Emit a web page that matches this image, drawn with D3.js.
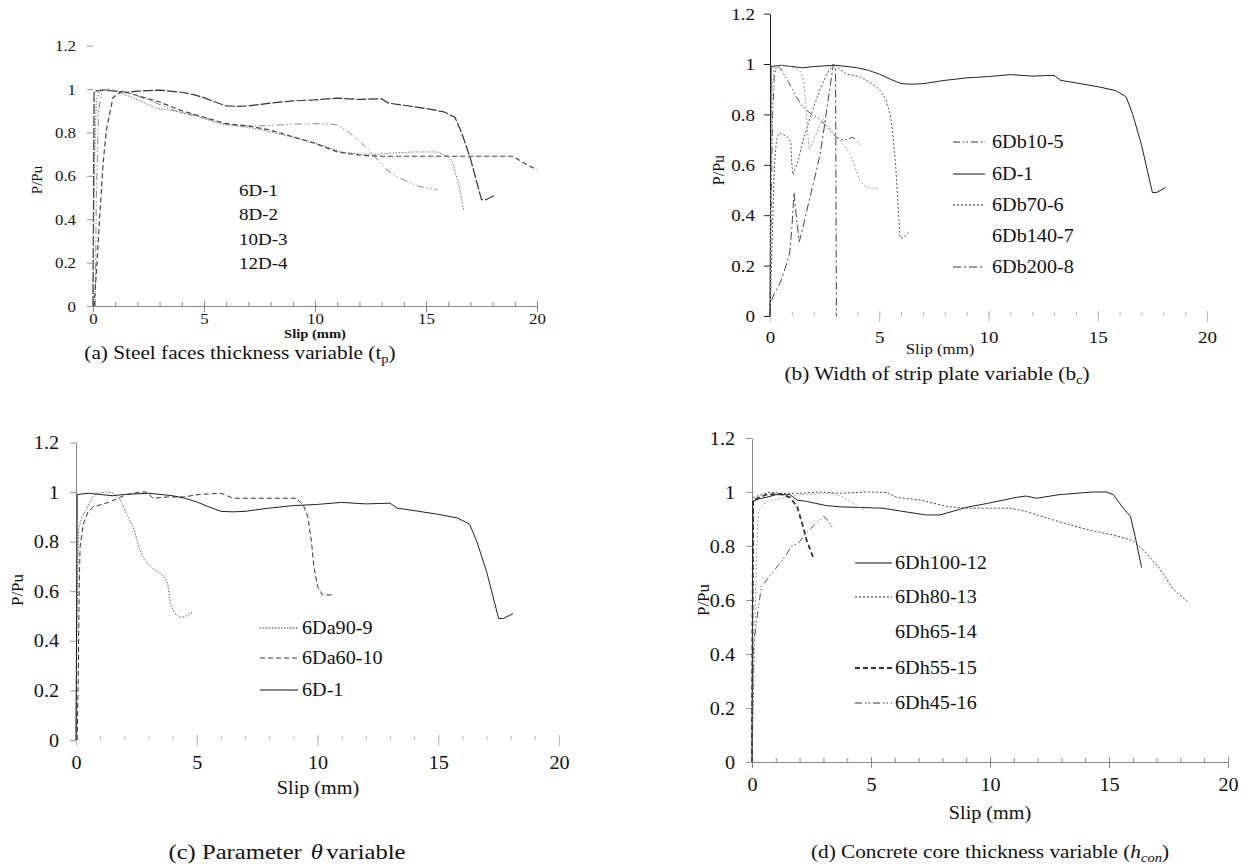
<!DOCTYPE html>
<html>
<head>
<meta charset="utf-8">
<script src="https://cdn.jsdelivr.net/npm/d3@7"></script>
<style>
  body { margin: 0; background: #fff; }
  svg { font-family: "Liberation Serif", "DejaVu Serif", serif; }
  text { fill: #111; }
</style>
</head>
<body>
<svg width="1247" height="868"></svg>
<script>
// ---- data (slip mm, P/Pu) ----
var yTicks = [0, 0.2, 0.4, 0.6, 0.8, 1, 1.2];
var xMajor = [0, 5, 10, 15, 20];
var xMinor = d3.range(0, 21, 1);

var s6D1 = [[0,0],[0.03,0.6],[0.05,0.99],[0.5,0.995],[1,0.99],[1.5,0.985],[2,0.99],[3,0.995],[4,0.985],[4.5,0.975],[5,0.96],[5.5,0.94],[6,0.922],[6.5,0.92],[7,0.922],[8,0.935],[9,0.945],[10,0.95],[11,0.958],[12,0.952],[13,0.955],[13.3,0.935],[14,0.925],[15,0.91],[15.8,0.895],[16.3,0.87],[16.6,0.8],[17,0.68],[17.5,0.49],[17.7,0.49],[18.1,0.51]];
var s8D2 = [[0.1,0],[0.15,0.5],[0.25,0.9],[0.4,0.99],[0.7,1.0],[1.2,0.99],[1.8,0.975],[2.5,0.95],[3.3,0.915],[4,0.89],[4.8,0.875],[5.7,0.845],[6.5,0.83],[7.5,0.83],[8.5,0.835],[9.5,0.84],[10.5,0.84],[11,0.835],[11.4,0.81],[12,0.76],[12.6,0.70],[13.2,0.63],[13.8,0.59],[14.7,0.55],[15.5,0.535]];
var s10D3 = [[0,0],[0.05,0.6],[0.15,0.95],[0.35,1.0],[1,0.99],[1.8,0.96],[2.9,0.91],[3.9,0.895],[4.8,0.87],[5.7,0.84],[6.5,0.83],[7.5,0.815],[8.5,0.79],[9.5,0.765],[10.5,0.735],[11.2,0.71],[12,0.70],[12.8,0.70],[13.5,0.705],[14.5,0.71],[15.5,0.71],[16,0.69],[16.2,0.66],[16.5,0.55],[16.7,0.44]];
var s12D4 = [[0.05,0],[0.18,0.2],[0.3,0.41],[0.45,0.65],[0.6,0.81],[0.9,0.96],[1.3,0.99],[2,0.97],[3,0.94],[4,0.9],[5,0.87],[6,0.84],[7,0.83],[8,0.81],[9,0.78],[10,0.75],[11,0.71],[12,0.695],[13,0.69],[15,0.69],[17,0.69],[18.2,0.69],[18.9,0.69],[19.4,0.66],[20,0.627]];

var s6Db10 = [[0,0],[0.05,0.4],[0.12,0.8],[0.2,0.95],[0.3,0.995],[0.5,0.98],[0.9,0.92],[1.2,0.87],[1.5,0.83],[1.9,0.8],[2.3,0.78],[2.6,0.75],[2.9,0.72],[3.2,0.7],[3.5,0.7],[3.8,0.71],[4.1,0.68]];
var s6Db70 = [[0,0],[0.1,0.3],[0.2,0.6],[0.3,0.7],[0.4,0.725],[0.6,0.72],[0.8,0.71],[0.95,0.69],[1.0,0.6],[1.05,0.56],[1.3,0.62],[1.5,0.69],[1.7,0.75],[2.0,0.83],[2.3,0.9],[2.6,0.96],[2.9,1.0],[3.2,0.98],[3.5,0.96],[4.1,0.95],[4.7,0.92],[5.0,0.9],[5.3,0.86],[5.5,0.8],[5.6,0.74],[5.75,0.6],[5.85,0.45],[5.95,0.31],[6.1,0.31],[6.4,0.34]];
var s6Db140 = [[0,0],[0.05,0.5],[0.1,0.9],[0.2,0.99],[0.5,0.995],[0.9,0.99],[1.2,0.98],[1.4,0.97],[1.55,0.93],[1.65,0.82],[1.75,0.7],[1.8,0.66],[2.0,0.7],[2.3,0.76],[2.45,0.78],[2.7,0.75],[3.2,0.7],[3.65,0.645],[3.9,0.59],[4.1,0.54],[4.4,0.51],[5.0,0.505]];
var s6Db200 = [[0,0],[0.02,0.05],[0.2,0.09],[0.46,0.13],[0.7,0.19],[0.9,0.25],[1.0,0.35],[1.1,0.49],[1.2,0.4],[1.34,0.295],[1.5,0.35],[1.8,0.46],[2.05,0.55],[2.3,0.645],[2.45,0.73],[2.6,0.82],[2.75,0.91],[2.9,1.0],[3.0,0.98],[3.02,0.5],[3.04,0]];

var s6Da90 = [[0,0],[0.05,0.5],[0.1,0.85],[0.25,0.9],[0.44,0.93],[0.65,0.975],[0.86,0.995],[1.27,1.0],[1.55,0.995],[1.82,0.97],[2.1,0.91],[2.4,0.85],[2.6,0.78],[2.8,0.73],[3.2,0.69],[3.6,0.665],[3.8,0.63],[3.9,0.55],[4.1,0.51],[4.3,0.495],[4.5,0.497],[4.83,0.517]];
var s6Da60 = [[0.05,0],[0.1,0.3],[0.13,0.6],[0.17,0.78],[0.3,0.87],[0.5,0.92],[0.72,0.94],[1.4,0.96],[2.1,0.99],[2.65,1.0],[2.9,1.0],[3.2,0.975],[3.8,0.98],[4.45,0.98],[5.1,0.99],[6.0,0.995],[6.5,0.975],[7.9,0.975],[9.1,0.975],[9.4,0.95],[9.6,0.9],[9.75,0.8],[9.85,0.7],[10.0,0.62],[10.2,0.585],[10.65,0.585]];

var s6Dh100 = [[0,0],[0.02,0.5],[0.03,0.965],[0.3,0.975],[0.6,0.98],[1.0,0.99],[1.6,0.99],[1.9,0.97],[2.3,0.965],[3.1,0.95],[3.7,0.945],[4.4,0.943],[5.5,0.94],[6.2,0.93],[7.3,0.915],[7.9,0.915],[8.5,0.93],[9.0,0.943],[9.9,0.958],[10.56,0.97],[11.1,0.98],[11.5,0.985],[11.96,0.977],[12.9,0.99],[14.3,1.0],[14.9,1.0],[15.18,0.99],[15.6,0.94],[15.9,0.91],[16.1,0.835],[16.37,0.72]];
var s6Dh80 = [[0,0],[0.03,0.6],[0.06,0.98],[0.4,0.99],[0.76,1.0],[1.2,0.995],[2.0,0.995],[2.86,1.0],[3.7,0.995],[4.8,1.0],[5.66,0.998],[6.1,0.98],[7.1,0.97],[8.2,0.946],[9.0,0.94],[10.4,0.94],[10.84,0.94],[11.54,0.927],[12.9,0.89],[14.1,0.86],[15.2,0.84],[16.0,0.82],[16.5,0.78],[17.1,0.72],[17.7,0.64],[18.3,0.594]];
var s6Dh65 = [[0,0],[0.1,0.4],[0.2,0.8],[0.27,0.93],[0.6,0.965],[1.3,0.977],[2.0,0.99],[2.7,0.993],[3.4,0.995],[3.84,0.98],[4.4,0.95],[4.8,0.927]];
var s6Dh55 = [[0,0],[0.02,0.5],[0.05,0.97],[0.6,0.99],[1.2,0.993],[1.6,0.98],[1.9,0.945],[2.15,0.87],[2.3,0.82],[2.58,0.755]];
var s6Dh45 = [[0,0],[0.03,0.2],[0.06,0.43],[0.27,0.575],[0.4,0.65],[0.76,0.69],[1.3,0.75],[1.67,0.8],[1.95,0.81],[2.3,0.85],[2.7,0.885],[3.0,0.91],[3.14,0.9],[3.4,0.865]];

// ---- styles ----
var SOLID = null, DOT = '2,2', FINEDOT = '1.5,1.5', DASH = '5,3', DASHDOT = '8,3,2,3', DASHDOTDOT = '7,3,1.5,2,1.5,3';
var SX = 1.12;
var FONT = '"Liberation Serif", "DejaVu Serif", serif';

var panels = [
  { x: [93, 537], y: [306, 45.6], xLine: true, yLine: null, tickPadY: 17, tickPadX: 13, fs: 15,
    yTitle: [37, 180, 15], xTitle: [315, 334, 13, 'bold'], cap: [240, 352, 19],
    legend: { x0: 239, x1: 239, tx: 239, rows: [190, 214.5, 239, 263.5], fs: 17, noLines: true },
    series: [
      { name: '6D-1', data: s6D1, dash: '10,2', color: '#333', w: 1.2 },
      { name: '8D-2', data: s8D2, dash: DASHDOTDOT, color: '#888', w: 1 },
      { name: '10D-3', data: s10D3, dash: FINEDOT, color: '#777', w: 1 },
      { name: '12D-4', data: s12D4, dash: DASH, color: '#444', w: 1.2 }
    ] },
  { x: [770, 1207], y: [316, 13.6], xLine: false, yLine: '#222', tickPadY: 15, tickPadX: 21, fs: 17,
    yTitle: [718, 170, 16], xTitle: [940, 349, 15], cap: [937, 373, 19],
    legend: { x0: 953, x1: 985, tx: 992, rows: [142, 174, 205, 236, 267], fs: 18 },
    series: [
      { name: '6Db10-5', data: s6Db10, dash: DASHDOTDOT, color: '#555', w: 1 },
      { name: '6D-1', data: s6D1, dash: SOLID, color: '#222', w: 1 },
      { name: '6Db70-6', data: s6Db70, dash: DOT, color: '#555', w: 1 },
      { name: '6Db140-7', data: s6Db140, dash: DOT, color: '#999', w: 1, noLegendLine: true },
      { name: '6Db200-8', data: s6Db200, dash: DASHDOT, color: '#444', w: 1 }
    ] },
  { x: [76, 559], y: [740, 442.4], xLine: false, yLine: '#888', tickPadY: 17, tickPadX: 23, fs: 18,
    yTitle: [17, 590, 17], xTitle: [318, 788, 18], cap: [287, 851, 22],
    legend: { x0: 260, x1: 298, tx: 302, rows: [628, 658, 690], fs: 18 },
    series: [
      { name: '6Da90-9', data: s6Da90, dash: FINEDOT, color: '#666', w: 1 },
      { name: '6Da60-10', data: s6Da60, dash: DASH, color: '#333', w: 1 },
      { name: '6D-1', data: s6D1, dash: SOLID, color: '#222', w: 1 }
    ] },
  { x: [752, 1228], y: [762, 438], xLine: true, yLine: '#888', tickPadY: 17, tickPadX: 23, fs: 18,
    yTitle: [703, 600, 17], xTitle: [990, 813, 18], cap: [990, 851, 19],
    legend: { x0: 855, x1: 892, tx: 895, rows: [563, 597, 632, 668, 703], fs: 18 },
    series: [
      { name: '6Dh100-12', data: s6Dh100, dash: SOLID, color: '#222', w: 1 },
      { name: '6Dh80-13', data: s6Dh80, dash: DOT, color: '#444', w: 1 },
      { name: '6Dh65-14', data: s6Dh65, dash: DOT, color: '#aaa', w: 1, noLegendLine: true },
      { name: '6Dh55-15', data: s6Dh55, dash: DASH, color: '#333', w: 1.8 },
      { name: '6Dh45-16', data: s6Dh45, dash: DASHDOTDOT, color: '#555', w: 1 }
    ] }
];

var svg = d3.select('svg');

function txt(g, x, y, s, size, anchor) {
  return g.append('text')
    .attr('transform', 'translate(' + x + ',' + y + ') scale(' + SX + ',1)')
    .attr('text-anchor', anchor || 'middle')
    .attr('dominant-baseline', 'central')
    .style('font-size', size + 'px')
    .text(s);
}

panels.forEach(function (p, i) {
  var g = svg.append('g');
  var x = d3.scaleLinear().domain([0, 20]).range(p.x);
  var y = d3.scaleLinear().domain([0, 1.2]).range(p.y);

  // y axis
  var ya = g.append('g').attr('transform', 'translate(' + p.x[0] + ',0)')
    .call(d3.axisLeft(y).tickValues(yTicks).tickSize(6).tickSizeOuter(0).tickFormat(d3.format('')));
  ya.attr('font-family', null);
  ya.select('.domain').attr('stroke', p.yLine || 'none');
  ya.selectAll('.tick line').attr('stroke', i === 1 ? '#222' : '#999');
  ya.selectAll('.tick text')
    .attr('x', null).attr('dy', null)
    .attr('transform', 'translate(' + (-p.tickPadY) + ',0) scale(' + SX + ',1)')
    .attr('dominant-baseline', 'central')
    .style('font-size', p.fs + 'px').style('font-family', FONT);

  // x axis: minor ticks upward, major crossing
  var xm = g.append('g').attr('transform', 'translate(0,' + p.y[0] + ')')
    .call(d3.axisBottom(x).tickValues(xMinor).tickSize(-4).tickSizeOuter(0).tickFormat(''));
  xm.select('.domain').attr('stroke', p.xLine ? '#888' : 'none');
  xm.selectAll('.tick line').attr('stroke', p.xLine ? '#888' : '#bbb');
  var xa = g.append('g').attr('transform', 'translate(0,' + p.y[0] + ')')
    .call(d3.axisBottom(x).tickValues(xMajor).tickSize(6).tickSizeOuter(0).tickFormat(d3.format('')));
  xa.attr('font-family', null);
  xa.select('.domain').remove();
  xa.selectAll('.tick line').attr('y1', -5).attr('stroke', p.xLine ? '#888' : '#bbb');
  xa.selectAll('.tick text')
    .attr('y', null).attr('dy', null)
    .attr('transform', 'translate(0,' + p.tickPadX + ') scale(' + SX + ',1)')
    .attr('dominant-baseline', 'central')
    .style('font-size', p.fs + 'px').style('font-family', FONT);

  // curves
  var line = d3.line().x(function (d) { return x(d[0]); }).y(function (d) { return y(d[1]); });
  p.series.forEach(function (s) {
    g.append('path').datum(s.data)
      .attr('d', line)
      .attr('fill', 'none')
      .attr('stroke', s.color)
      .attr('stroke-width', s.w)
      .attr('stroke-dasharray', s.dash);
  });

  // legend
  var L = p.legend;
  p.series.forEach(function (s, k) {
    var yy = L.rows[k];
    if (!L.noLines && !s.noLegendLine) {
      g.append('line').attr('x1', L.x0).attr('x2', L.x1).attr('y1', yy).attr('y2', yy)
        .attr('stroke', s.dash === SOLID ? '#111' : '#333')
        .attr('stroke-width', s.w)
        .attr('stroke-dasharray', s.dash);
    }
    txt(g, L.tx, yy, s.name, L.fs, 'start');
  });

  // axis titles
  g.append('text')
    .attr('transform', 'translate(' + p.yTitle[0] + ',' + p.yTitle[1] + ') rotate(-90)')
    .attr('text-anchor', 'middle').attr('dominant-baseline', 'central')
    .style('font-size', p.yTitle[2] + 'px').text('P/Pu');
  txt(g, p.xTitle[0], p.xTitle[1], 'Slip (mm)', p.xTitle[2]).style('font-weight', p.xTitle[3] || 'normal');
});

// captions
function caption(c, parts) {
  var t = svg.append('text')
    .attr('transform', 'translate(' + c[0] + ',' + c[1] + ') scale(' + SX + ',1)')
    .attr('text-anchor', 'middle').attr('dominant-baseline', 'central')
    .style('font-size', c[2] + 'px');
  parts.forEach(function (pt) {
    var ts = t.append('tspan').text(pt.t);
    if (pt.i) ts.style('font-style', 'italic');
    if (pt.dx) ts.attr('dx', pt.dx);
    if (pt.sub) ts.attr('baseline-shift', 'sub').style('font-size', Math.round(c[2] * 0.68) + 'px');
  });
}
caption(panels[0].cap, [{ t: '(a) Steel faces thickness variable (t' }, { t: 'p', sub: true }, { t: ')' }]);
caption(panels[1].cap, [{ t: '(b) Width of strip plate variable (b' }, { t: 'c', sub: true }, { t: ')' }]);
caption(panels[2].cap, [{ t: '(c) Parameter' }, { t: 'θ', i: true, dx: 8 }, { t: 'variable', dx: 3 }]);
caption(panels[3].cap, [{ t: '(d) Concrete core thickness variable (' }, { t: 'h', i: true }, { t: 'con', i: true, sub: true }, { t: ')' }]);
</script>
</body>
</html>
